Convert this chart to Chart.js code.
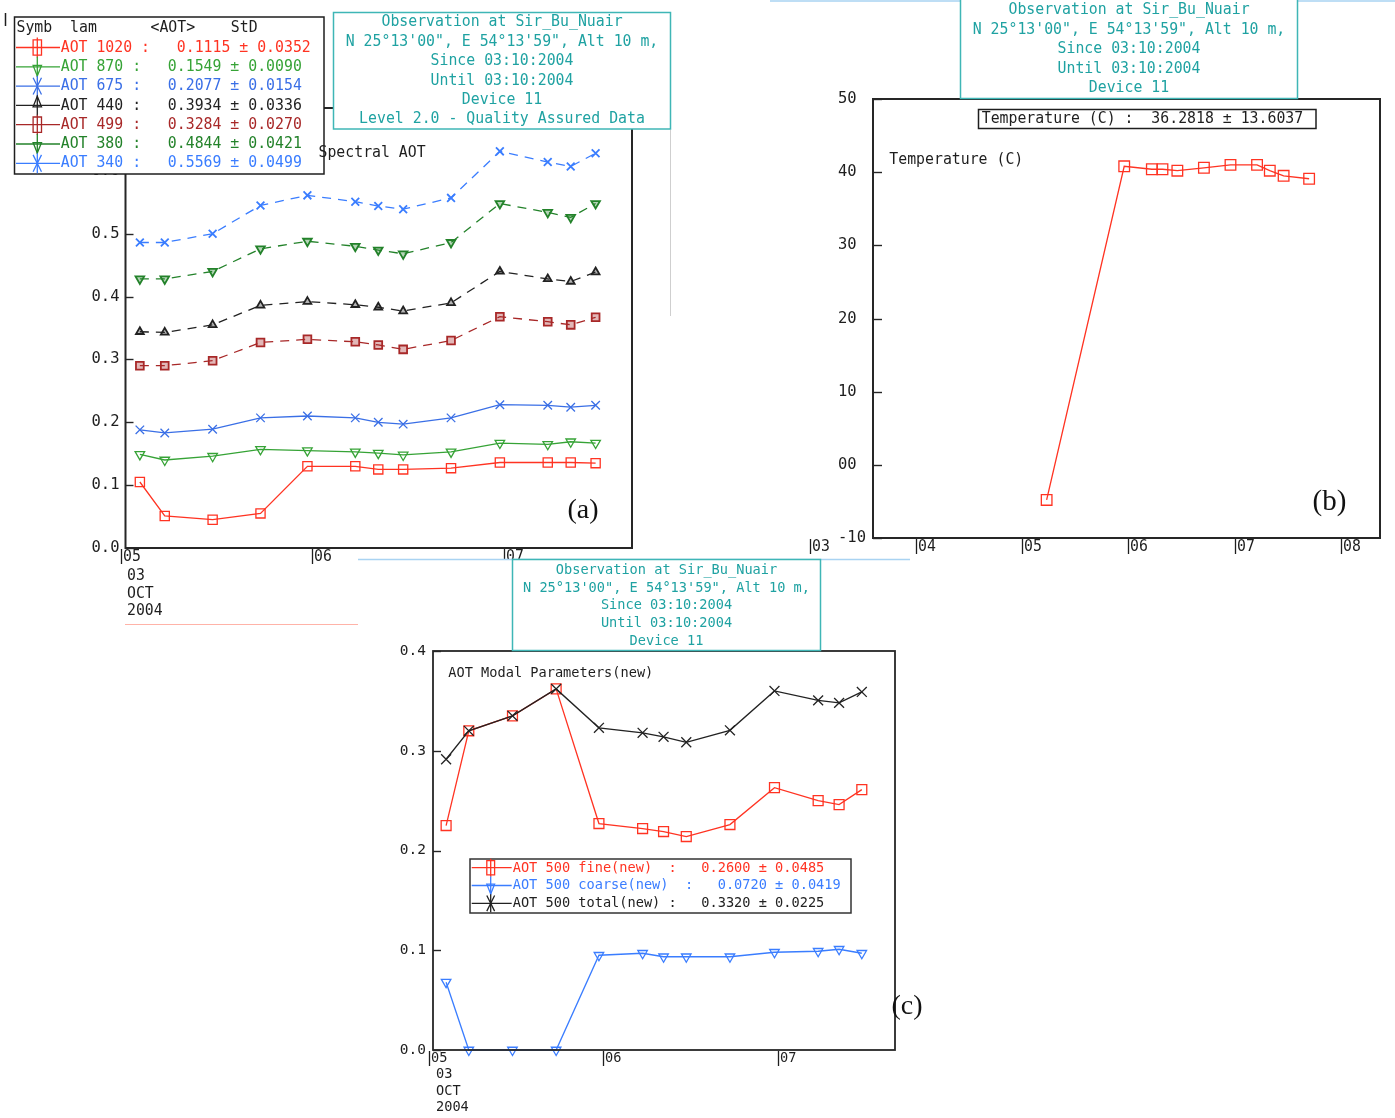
<!DOCTYPE html>
<html>
<head>
<meta charset="utf-8">
<title>Sir_Bu_Nuair AOT 03 Oct 2004</title>
<script src="https://cdn.jsdelivr.net/npm/chart.js@4.4.1/dist/chart.umd.min.js"></script>
<style>
  html, body { margin: 0; padding: 0; background: #fff; }
  body { position: relative; width: 1395px; height: 1118px; overflow: hidden; }
  canvas { position: absolute; }
  #aot { left: 0; top: 0; z-index: 1; }
  #temp { left: 770px; top: 0; z-index: 1; }
  #modal { left: 358px; top: 555px; z-index: 2; }
</style>
</head>
<body>
<canvas id="aot" width="680" height="640"></canvas>
<canvas id="temp" width="625" height="570"></canvas>
<canvas id="modal" width="570" height="563"></canvas>
<script>
// measurement times (hours UTC, 03 Oct 2004)
const aotHours = [5.10, 5.23, 5.48, 5.73, 5.975, 6.225, 6.345, 6.475, 6.725, 6.98, 7.23, 7.35, 7.48];
const tempHours = [5.23, 5.96, 6.22, 6.32, 6.46, 6.71, 6.96, 7.21, 7.33, 7.46, 7.70];

// spectral AOT
const aot1020 = [0.105, 0.051, 0.045, 0.055, 0.130, 0.130, 0.125, 0.125, 0.127, 0.136, 0.136, 0.136, 0.135];
const aot870 = [0.149, 0.140, 0.146, 0.157, 0.155, 0.153, 0.151, 0.148, 0.153, 0.167, 0.165, 0.169, 0.167];
const aot675 = [0.188, 0.183, 0.189, 0.207, 0.210, 0.207, 0.200, 0.197, 0.207, 0.228, 0.227, 0.224, 0.227];
const aot440 = [0.344, 0.343, 0.355, 0.386, 0.392, 0.387, 0.383, 0.377, 0.390, 0.440, 0.428, 0.424, 0.439];
const aot499 = [0.290, 0.290, 0.298, 0.327, 0.332, 0.328, 0.323, 0.316, 0.330, 0.368, 0.360, 0.355, 0.367];
const aot380 = [0.428, 0.428, 0.440, 0.476, 0.488, 0.480, 0.474, 0.468, 0.486, 0.548, 0.534, 0.526, 0.548];
const aot340 = [0.486, 0.486, 0.500, 0.545, 0.561, 0.551, 0.544, 0.539, 0.557, 0.631, 0.614, 0.607, 0.628];
const aotNames = ['AOT 1020', 'AOT 870', 'AOT 675', 'AOT 440', 'AOT 499', 'AOT 380', 'AOT 340'];
const aotMeans = ['0.1115', '0.1549', '0.2077', '0.3934', '0.3284', '0.4844', '0.5569'];
const aotStds = ['0.0352', '0.0090', '0.0154', '0.0336', '0.0270', '0.0421', '0.0499'];

// temperature
const temps = [-4.8, 40.8, 40.4, 40.4, 40.2, 40.6, 41.0, 41.0, 40.2, 39.5, 39.1];
const tempMean = '36.2818';
const tempStd = '13.6037';
const tempTicks = [-10, 0, 10, 20, 30, 40, 50];
const tempTickText = ['-10', '00', '10', '20', '30', '40', '50'];

// modal AOT at 500 nm
const fine500 = [0.225, 0.320, 0.335, 0.362, 0.227, 0.222, 0.219, 0.214, 0.226, 0.263, 0.250, 0.246, 0.261];
const coarse500 = [0.068, 0.0, 0.0, 0.0, 0.095, 0.097, 0.0935, 0.0935, 0.0935, 0.098, 0.099, 0.101, 0.097];
const total500 = [0.2915, 0.320, 0.335, 0.362, 0.323, 0.318, 0.314, 0.3085, 0.3205, 0.360, 0.3505, 0.348, 0.359];
const modalNames = ['AOT 500 fine(new)  ', 'AOT 500 coarse(new)  ', 'AOT 500 total(new) '];
const modalMeans = ['0.2600', '0.0720', '0.3320'];
const modalStds = ['0.0485', '0.0419', '0.0225'];

// axis text
const hourTicks = [5, 6, 7];
const hourText = ['05', '06', '07'];
const tempHourTicks = [3, 4, 5, 6, 7, 8];
const tempHourText = ['03', '04', '05', '06', '07', '08'];
const dateLines = ['03', 'OCT', '2004'];
const siteInfo = ['Observation at Sir_Bu_Nuair', 'N 25°13\'00", E 54°13\'59", Alt 10 m,',
  'Since 03:10:2004', 'Until 03:10:2004', 'Device 11'];
const levelLine = 'Level 2.0 - Quality Assured Data';

const FONT = "'DejaVu Sans Mono', monospace";
const TEAL = '#1fa2a2';
const TEAL_LINE = '#3fb6b6';
const INK = '#1e1e1e';
const mono = px => px + 'px ' + FONT;

// big panels: 16px glyphs squeezed to 8.93px per character, small panel 14.8px -> 8.2px
const BIG = { px: 16, adv: 8.93 };
const SMALL = { px: 14.8, adv: 8.2 };

const aotStyles = [
  { color: '#ff3322', point: 'rect', r: 6.5 },
  { color: '#36a336', point: 'triDown', r: 5.5 },
  { color: '#3a6fe6', point: 'x', r: 6 },
  { color: '#222222', point: 'triUp', r: 4.5, dash: [9, 7] },
  { color: '#a82828', point: 'rect', r: 5.5, dash: [9, 7] },
  { color: '#23822a', point: 'triDown', r: 5, dash: [9, 7] },
  { color: '#3a7dff', point: 'x', r: 5.5, dash: [9, 7] }
];
const modalStyles = [
  { color: '#ff3322', point: 'rect', r: 7 },
  { color: '#3a7dff', point: 'triDown', r: 5.5 },
  { color: '#222222', point: 'x', r: 7 }
];

function toPoints(hours, vals) {
  return hours.map((h, i) => ({ x: h, y: vals[i] }));
}

function series(hours, vals, st) {
  const rot = st.point === 'triDown' ? 180 : 0;
  const ps = st.point === 'rect' ? 'rect' : st.point === 'x' ? 'crossRot' : 'triangle';
  const dashed = !!st.dash;
  return {
    data: toPoints(hours, vals),
    borderColor: st.color,
    borderWidth: 1.3,
    borderDash: st.dash || [],
    pointStyle: ps,
    pointRotation: rot,
    pointRadius: st.r,
    pointBorderColor: st.color,
    pointBackgroundColor: dashed ? st.color + '55' : 'rgba(0,0,0,0)',
    pointBorderWidth: dashed ? 1.8 : 1.3,
    tension: 0,
    fill: false,
    clip: false
  };
}

// small symbol used in the boxed legends
function marker(ctx, kind, x, y, r) {
  ctx.beginPath();
  if (kind === 'rect') {
    ctx.rect(x - r * 0.6, y - r * 1.1, r * 1.2, r * 2.2);
  } else if (kind === 'triDown' || kind === 'triUp') {
    const d = kind === 'triDown' ? 1 : -1;
    ctx.moveTo(x - r * 0.6, y - d * r * 0.2);
    ctx.lineTo(x + r * 0.6, y - d * r * 0.2);
    ctx.lineTo(x, y + d * r * 1.3);
    ctx.closePath();
  } else {
    ctx.moveTo(x - r * 0.6, y - r * 1.2); ctx.lineTo(x + r * 0.6, y + r * 1.2);
    ctx.moveTo(x + r * 0.6, y - r * 1.2); ctx.lineTo(x - r * 0.6, y + r * 1.2);
  }
  ctx.stroke();
}

function line(ctx, x1, y1, x2, y2) {
  ctx.beginPath(); ctx.moveTo(x1, y1); ctx.lineTo(x2, y2); ctx.stroke();
}

// monospaced text, narrowed to the given advance per character
function text(ctx, t, x, y, f, color, align, maxW) {
  ctx.font = mono(f.px); ctx.fillStyle = color || INK;
  ctx.textAlign = align || 'left'; ctx.textBaseline = 'middle';
  let w = t.length * f.adv;
  if (maxW && w > maxW) w = maxW;
  ctx.fillText(t, x, y, w);
}

function drawHeader(ctx, box, lines, firstY, gap, f) {
  ctx.fillStyle = '#fff';
  ctx.fillRect(box.x, box.y, box.w, box.h);
  ctx.strokeStyle = TEAL_LINE; ctx.lineWidth = 1.5;
  ctx.strokeRect(box.x, box.y, box.w, box.h);
  const cx = box.x + box.w / 2;
  lines.forEach((t, i) => text(ctx, t, cx, firstY + i * gap, f, TEAL, 'center', box.w * 0.94));
}

// frame, inward y ticks and "|hh" time labels, then per-panel extras
function decor(cfg) {
  return {
    id: 'decor',
    beforeDraw(chart) {
      if (cfg.paper) cfg.paper(chart.ctx, chart);
    },
    afterDraw(chart) {
      const ctx = chart.ctx, a = chart.chartArea;
      const xs = chart.scales.x, ys = chart.scales.y;
      ctx.save();
      ctx.strokeStyle = '#262626'; ctx.lineWidth = cfg.frame;
      ctx.strokeRect(a.left, a.top, a.right - a.left, a.bottom - a.top);
      ctx.lineWidth = 1.4;
      ys.ticks.forEach(t => {
        const y = Math.round(ys.getPixelForValue(t.value)) + 0.5;
        line(ctx, a.left, y, a.left + cfg.tick, y);
      });
      ctx.lineWidth = 1.3;
      cfg.hours.forEach((h, i) => {
        const x = Math.round(xs.getPixelForValue(h)) + 0.5;
        ctx.strokeStyle = INK;
        line(ctx, x, a.bottom + 1, x, a.bottom + 16);
        text(ctx, cfg.labels[i], x + 1.5, a.bottom + cfg.dy, cfg.font);
        if (i === 0 && cfg.dates) {
          cfg.dates.forEach((d, j) => text(ctx, d, x + cfg.dateDx, a.bottom + cfg.dateY[j], cfg.font));
        }
      });
      if (cfg.extra) cfg.extra(ctx, chart);
      ctx.restore();
    }
  };
}

function yAxis(min, max, step, width, px, pad, far, cb) {
  return {
    type: 'linear', min: min, max: max,
    grid: { display: false, drawTicks: false },
    border: { display: false },
    ticks: { stepSize: step, color: INK, font: { family: FONT, size: px }, padding: pad,
             crossAlign: far ? 'far' : 'near', callback: cb },
    afterFit: s => { s.width = width; }
  };
}

function xAxis(min, max) {
  return { type: 'linear', min: min, max: max, display: false };
}

const common = {
  responsive: false,
  animation: false,
  events: [],
  plugins: { legend: { display: false }, tooltip: { enabled: false } }
};

// (a) spectral AOT
const aotSets = [aot1020, aot870, aot675, aot440, aot499, aot380, aot340];
new Chart(document.getElementById('aot'), {
  type: 'line',
  data: { datasets: aotSets.map((v, i) => series(aotHours, v, aotStyles[i])) },
  options: Object.assign({}, common, {
    layout: { padding: { left: 60, top: 108, right: 48, bottom: 92 } },
    scales: {
      x: xAxis(5.025, 7.67),
      y: yAxis(0, 0.7, 0.1, 65.5, 15.5, 6, false, v => v.toFixed(1))
    }
  }),
  plugins: [decor({
    frame: 2, tick: 8, font: BIG, hours: hourTicks, labels: hourText, dy: 9,
    dates: dateLines, dateDx: 5.5, dateY: [28, 46, 63],
    extra(ctx) {
      ctx.strokeStyle = INK; ctx.lineWidth = 1.5;
      line(ctx, 5.5, 13, 5.5, 26);
      ctx.strokeStyle = '#cfcfcf'; ctx.lineWidth = 1;
      line(ctx, 670.5, 130, 670.5, 316);
      ctx.strokeStyle = '#ffb3a8';
      line(ctx, 125, 624.5, 358, 624.5);

      ctx.font = "28px 'Liberation Serif', serif"; ctx.fillStyle = '#111';
      ctx.textAlign = 'center'; ctx.fillText('(a)', 583, 511);

      // boxed legend with mean ± std
      ctx.fillStyle = '#fff'; ctx.fillRect(14, 17, 310, 157);
      ctx.strokeStyle = INK; ctx.lineWidth = 1.5; ctx.strokeRect(14.5, 17, 309.5, 157);
      text(ctx, 'Symb  lam      <AOT>    StD', 16.5, 28.3, BIG);
      aotNames.forEach((n, i) => {
        const y = 47.5 + i * 19.3, st = aotStyles[i];
        ctx.strokeStyle = st.color; ctx.lineWidth = 1.3;
        line(ctx, 16, y, 60, y);
        line(ctx, 37.3, y - 10, 37.3, y + 10);
        marker(ctx, st.point, 37.3, y, 7);
        text(ctx, n + ' :   ' + aotMeans[i] + ' ± ' + aotStds[i], 60.7, y, BIG, st.color);
      });
      text(ctx, 'Spectral AOT', 318.5, 152.5, BIG);

      drawHeader(ctx, { x: 333.5, y: 12.5, w: 337, h: 116.5 }, siteInfo.concat([levelLine]), 22.3, 19.4, BIG);
    }
  })]
});

// (b) temperature
new Chart(document.getElementById('temp'), {
  type: 'line',
  data: { datasets: [series(tempHours, temps, { color: '#ff3322', point: 'rect', r: 7.5 })] },
  options: Object.assign({}, common, {
    layout: { padding: { left: 68, top: 99, right: 15, bottom: 32 } },
    scales: {
      x: xAxis(3.596, 8.367),
      y: yAxis(-10, 50, 10, 35, 15.5, 0, true, v => tempTickText[tempTicks.indexOf(v)])
    }
  }),
  plugins: [decor({
    frame: 2, tick: 9, font: BIG, hours: tempHourTicks, labels: tempHourText, dy: 9,
    extra(ctx) {
      ctx.strokeStyle = '#a9d3f2'; ctx.lineWidth = 1.5;
      line(ctx, 0, 1, 625, 1);
      text(ctx, 'Temperature (C)', 119.3, 160, BIG);
      ctx.fillStyle = '#fff'; ctx.fillRect(208.5, 109.5, 337.5, 19);
      ctx.strokeStyle = INK; ctx.lineWidth = 1.5; ctx.strokeRect(208.5, 109.5, 337.5, 19);
      text(ctx, 'Temperature (C) :  ' + tempMean + ' ± ' + tempStd, 211.7, 119.2, BIG);
      ctx.font = "29px 'Liberation Serif', serif"; ctx.fillStyle = '#111';
      ctx.textAlign = 'center'; ctx.fillText('(b)', 559.5, 502);
      drawHeader(ctx, { x: 190.5, y: -2, w: 337, h: 100.5 }, siteInfo, 10, 19.5, BIG);
    }
  })]
});

// (c) modal AOT at 500 nm
const modalSets = [total500, coarse500, fine500];
const modalOrder = [2, 1, 0];
new Chart(document.getElementById('modal'), {
  type: 'line',
  data: { datasets: modalSets.map((v, i) => series(aotHours, v, modalStyles[modalOrder[i]])) },
  options: Object.assign({}, common, {
    layout: { padding: { left: 10, top: 96, right: 33, bottom: 68 } },
    scales: {
      x: xAxis(5.025, 7.67),
      y: yAxis(0, 0.4, 0.1, 65, 14.5, 7, false, v => v.toFixed(1))
    }
  }),
  plugins: [decor({
    frame: 1.8, tick: 8, font: SMALL, hours: hourTicks, labels: hourText, dy: 8.5,
    dates: dateLines, dateDx: 6.5, dateY: [24.5, 41, 57.5],
    paper(ctx, chart) {
      ctx.save();
      ctx.fillStyle = '#fff';
      ctx.fillRect(0, 4, chart.width, chart.height - 4);
      ctx.strokeStyle = '#a9d3f2'; ctx.lineWidth = 1.5;
      line(ctx, 0, 4.5, 552, 4.5);
      ctx.restore();
    },
    extra(ctx) {
      text(ctx, 'AOT Modal Parameters(new)', 90.3, 117.7, SMALL);
      ctx.font = "28px 'Liberation Serif', serif"; ctx.fillStyle = '#111';
      ctx.textAlign = 'center'; ctx.fillText('(c)', 549, 452);

      ctx.fillStyle = '#fff'; ctx.fillRect(112, 304, 381, 54);
      ctx.strokeStyle = '#333'; ctx.lineWidth = 1.5; ctx.strokeRect(112, 304, 381, 54);
      modalNames.forEach((n, i) => {
        const y = 312.7 + i * 17.8, st = modalStyles[i];
        ctx.strokeStyle = st.color; ctx.lineWidth = 1.3;
        line(ctx, 113.7, y, 153.7, y);
        line(ctx, 132.7, y - 9, 132.7, y + 9);
        marker(ctx, st.point, 132.7, y, 6.5);
        text(ctx, n + ':   ' + modalMeans[i] + ' ± ' + modalStds[i], 154.7, y, SMALL, st.color);
      });

      drawHeader(ctx, { x: 154.5, y: 4.5, w: 308, h: 91 }, siteInfo, 15, 17.75, SMALL);
    }
  })]
});
</script>
</body>
</html>
